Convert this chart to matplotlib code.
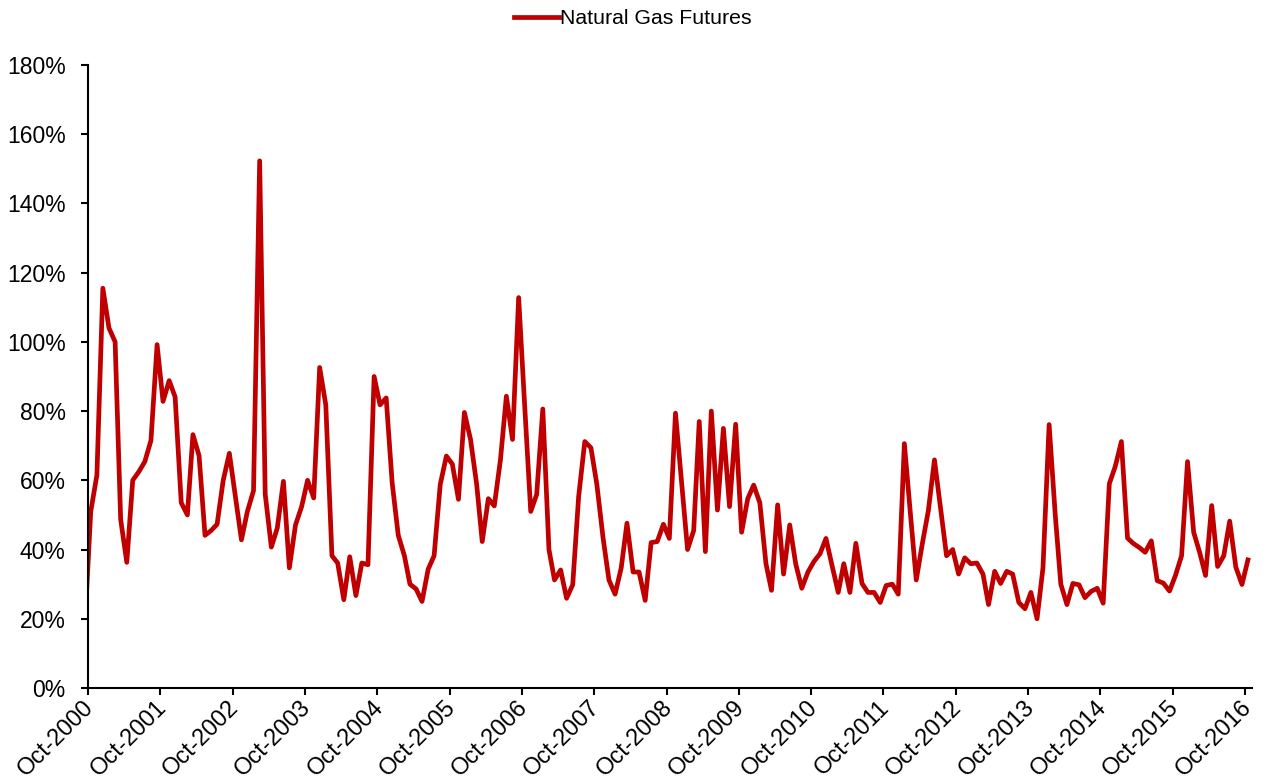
import matplotlib.pyplot as plt
import matplotlib.transforms as mtransforms
import pandas as pd

plt.rcParams['font.family'] = ['Liberation Sans', 'DejaVu Sans']

# monthly values (%), dated mid-month, first point = Sep-2000 (falls left of the axis)
volatility = [
    18.0, 51.0, 61.5, 115.5, 104.0, 100.0, 48.7, 36.3, 60.0, 62.5,
    65.4, 71.5, 99.2, 82.8, 88.8, 84.1, 53.5, 50.0, 73.2, 67.1,
    44.1, 45.5, 47.3, 60.0, 67.8, 55.5, 42.8, 51.0, 57.0, 152.3,
    56.0, 40.7, 46.2, 59.7, 34.7, 47.1, 52.4, 60.0, 54.9, 92.6,
    81.8, 38.2, 36.1, 25.5, 37.9, 26.7, 36.1, 35.6, 90.0, 81.8,
    83.8, 59.4, 44.1, 38.2, 30.0, 28.6, 25.0, 34.3, 38.2, 58.8,
    67.0, 64.7, 54.5, 79.6, 71.8, 58.8, 42.3, 54.7, 52.6, 65.9,
    84.3, 71.8, 112.8, 82.0, 51.0, 55.9, 80.6, 40.0, 31.2, 34.1,
    25.9, 29.8, 55.3, 71.2, 69.4, 58.8, 43.5, 31.2, 27.1, 34.7,
    47.6, 33.5, 33.5, 25.3, 42.0, 42.3, 47.3, 43.2, 79.4, 60.0,
    40.0, 45.5, 77.0, 39.4, 80.0, 51.4, 75.0, 52.4, 76.2, 45.0,
    54.7, 58.6, 53.5, 35.9, 28.2, 52.9, 32.9, 47.1, 35.9, 28.8,
    33.5, 36.5, 38.8, 43.2, 35.3, 27.6, 35.9, 27.6, 41.8, 30.2,
    27.6, 27.6, 24.7, 29.6, 30.0, 27.1, 70.6, 50.0, 31.2, 41.8,
    51.2, 65.9, 52.4, 38.2, 40.0, 32.9, 37.6, 35.9, 36.1, 32.9,
    24.1, 33.7, 30.2, 33.7, 32.9, 24.7, 22.9, 27.6, 20.0, 34.7,
    76.1, 50.0, 30.0, 24.1, 30.2, 29.8, 26.1, 27.9, 28.8, 24.5,
    59.0, 64.0, 71.2, 43.3, 41.8, 40.6, 39.2, 42.5, 31.0, 30.3,
    28.0, 32.5, 38.2, 65.4, 45.0, 39.0, 32.5, 52.7, 35.1, 38.2,
    48.2, 34.9, 29.9, 37.0,
]
dates = pd.date_range('2000-09-01', periods=len(volatility), freq='MS') + pd.Timedelta(days=14)
tick_dates = pd.date_range('2000-10-01', '2016-10-01', freq='12MS')
tick_labels = [d.strftime('Oct-%Y') for d in tick_dates]
y_ticks = list(range(0, 181, 20))

fig = plt.figure(figsize=(12.66, 7.8), dpi=100)
ax = fig.add_axes([0.0695, 0.118, 0.9195, 0.7987])

ax.plot(dates, volatility, color='#C00000', linewidth=3.4,
        solid_joinstyle='round', label='Natural Gas Futures')

ax.set_xlim(pd.Timestamp('2000-10-01'), pd.Timestamp('2016-11-05'))
ax.set_ylim(0, 180)
ax.set_xticks(tick_dates)
ax.set_xticklabels(tick_labels, rotation=45, ha='right', va='top',
                   rotation_mode='anchor', fontsize=17)
ax.set_yticks(y_ticks)
ax.set_yticklabels([f"{v}%" for v in y_ticks], fontsize=16.5)

for side in ['top', 'right']:
    ax.spines[side].set_visible(False)
for side in ['left', 'bottom']:
    ax.spines[side].set_linewidth(1.5)
ax.tick_params(axis='both', direction='out', length=5, width=1.5, colors='black')
ax.tick_params(axis='y', pad=11)
ax.tick_params(axis='x', pad=1)

# nudge the rotated date labels a little left, like the original
nudge = mtransforms.ScaledTranslation(-0.05, 0.0, fig.dpi_scale_trans)
for lab in ax.get_xticklabels():
    lab.set_transform(lab.get_transform() + nudge)

fig.legend(loc='upper center', bbox_to_anchor=(0.5, 1.013), frameon=False,
           fontsize=15.3, handlelength=2.1, handletextpad=0.05)

fig.savefig('out.png', dpi=100)
